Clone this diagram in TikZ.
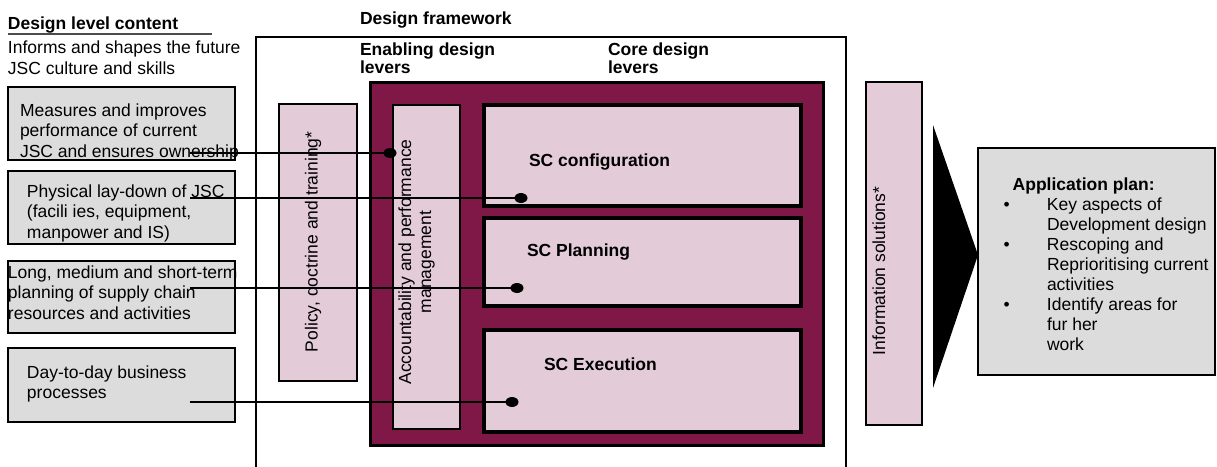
\documentclass[tikz,border=0pt]{standalone}
\usepackage{fontspec}
\setmainfont{Liberation Sans}
\usetikzlibrary{shapes.geometric}
\definecolor{boxgray}{HTML}{DCDCDC}
\definecolor{leverpink}{HTML}{E4CBD8}
\definecolor{coremaroon}{HTML}{7F1846}
\begin{document}
\begin{tikzpicture}[x=1pt,y=-1pt,
  every node/.style={inner sep=0pt, outer sep=0pt, font=\fontsize{17.5}{20.5}\selectfont},
  txt/.style={anchor=north west, align=left},
  basetxt/.style={anchor=base west},
  hdr/.style={anchor=base west, font=\fontsize{17.5}{18.3}\selectfont\bfseries},
  graybox/.style={draw=black, line width=2.8pt, fill=boxgray, rectangle},
  pinkbox/.style={draw=black, line width=2.8pt, fill=leverpink, rectangle},
  thinpink/.style={draw=black, line width=2pt, fill=leverpink, rectangle},
  corebox/.style={draw=black, line width=3pt, fill=coremaroon, rectangle},
  conn/.style={draw=black, line width=2.4pt},
  dotend/.style={ellipse, fill=black, minimum width=13pt, minimum height=10pt}
]
\useasboundingbox (0,0) rectangle (1217,466);

% ---- left column ----
\node[hdr] (dlc) at (8,29) {Design level content};
\draw[line width=1.8pt, draw=black!70] (8,34) -- (212,34);
\node[txt, font=\fontsize{17.5}{21}\selectfont] (informs) at (8,40.4) {Informs and shapes the future\\JSC culture and skills};

\node[graybox, minimum width=227pt, minimum height=73pt] (b1) at (121.5,123.5) {};
\node[graybox, minimum width=227pt, minimum height=73pt] (b2) at (121.5,207.5) {};
\node[graybox, minimum width=227pt, minimum height=72pt] (b3) at (121.5,297) {};
\node[graybox, minimum width=227pt, minimum height=74pt] (b4) at (121.5,385) {};

\node[txt] (t1) at (20,103.4) {Measures and improves\\performance of current\\JSC and ensures ownership};
\node[txt] (t2) at (27,184.4) {Physical lay-down of JSC\\(facili ies, equipment,\\manpower and IS)};
\node[txt] (t3) at (8,265.4) {Long, medium and short-term\\planning of supply chain\\resources and activities};
\node[txt] (t4) at (27,365.4) {Day-to-day business\\processes};

% ---- design framework ----
\node[hdr] (dfw) at (360,24) {Design framework};
\draw[line width=2pt] (256,470) -- (256,37) -- (846,37) -- (846,470);
\node[hdr, align=left, anchor=north west] (edl) at (360,42.5) {Enabling design\\levers};
\node[hdr, align=left, anchor=north west] (cdl) at (608,42.5) {Core design\\levers};

\node[thinpink, minimum width=78pt, minimum height=277pt] (policy) at (318,242.5) {};
\node[rotate=90, basetxt] (policyt) at (317.5,352) {Policy, doctrine and training*};

\node[corebox, minimum width=453pt, minimum height=363pt] (core) at (596.5,263.5) {};
\node[pinkbox, minimum width=67pt, minimum height=324pt] (acc) at (426.5,267) {};
\node[rotate=90, align=center, font=\fontsize{17.5}{20}\selectfont] (acct) at (416.5,262) {Accountability and performance\\management};

\node[pinkbox, line width=3.2pt, minimum width=317pt, minimum height=101pt] (conf) at (642.5,155.5) {};
\node[pinkbox, line width=3.2pt, minimum width=317pt, minimum height=88pt] (plan) at (642.5,262) {};
\node[pinkbox, line width=3.2pt, minimum width=317pt, minimum height=102pt] (exec) at (642.5,381) {};
\node[basetxt, font=\fontsize{17.5}{20.5}\selectfont\bfseries] (conft) at (529,166) {SC configuration};
\node[basetxt, font=\fontsize{17.5}{20.5}\selectfont\bfseries] (plant) at (527,256.5) {SC Planning};
\node[basetxt, font=\fontsize{17.5}{20.5}\selectfont\bfseries] (exect) at (544,370) {SC Execution};

% ---- information solutions ----
\node[pinkbox, line width=2.5pt, minimum width=56pt, minimum height=343pt] (info) at (894,253.5) {};
\node[rotate=90, basetxt] (infot) at (885,355) {Information solutions*};

% ---- arrow and application plan ----
\fill[black] (933,125) -- (978,255) -- (933,388) -- cycle;
\node[graybox, line width=2.5pt, minimum width=237pt, minimum height=227pt] (app) at (1096.5,261.5) {};
\node[txt, font=\fontsize{17.5}{20}\selectfont] (appt) at (1003.6,177.5) {\hspace*{9.1pt}\textbf{Application plan:}\\
\makebox[43.4pt][l]{•}Key aspects of\\
\hspace*{43.4pt}Development design\\
\makebox[43.4pt][l]{•}Rescoping and\\
\hspace*{43.4pt}Reprioritising current\\
\hspace*{43.4pt}activities\\
\makebox[43.4pt][l]{•}Identify areas for\\
\hspace*{43.4pt}fur her\\
\hspace*{43.4pt}work};

% ---- connectors ----
\coordinate (s1) at (190,153);
\coordinate (s2) at (190,198);
\coordinate (s3) at (190,288);
\coordinate (s4) at (190,402);
\node[dotend] (d1) at (390,153) {};
\node[dotend] (d2) at (521,198) {};
\node[dotend] (d3) at (517,288) {};
\node[dotend] (d4) at (512,402) {};
\draw[conn] (s1) -- (d1.center);
\draw[conn] (s2) -- (d2.center);
\draw[conn] (s3) -- (d3.center);
\draw[conn] (s4) -- (d4.center);
\end{tikzpicture}
\end{document}
